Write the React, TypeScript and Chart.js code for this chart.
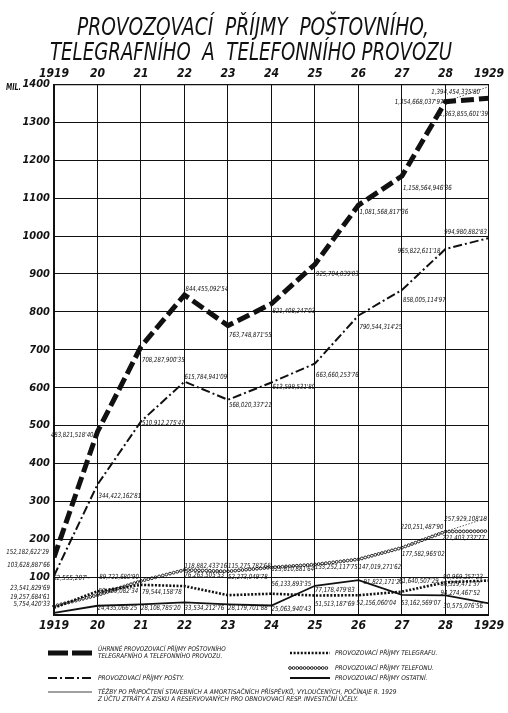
import { useEffect, useRef } from "react";
import { Chart, registerables } from "chart.js";
Chart.register(...registerables);

const YEARS = [1919, 1920, 1921, 1922, 1923, 1924, 1925, 1926, 1927, 1928, 1929];
const X_TICK_LABELS = ["1919", "20", "21", "22", "23", "24", "25", "26", "27", "28", "1929"];

// values in millions of Kč
const TOTAL = [152.18, 483.82, 708.29, 844.46, 763.75, 821.41, 925.7, 1081.57, 1158.56, 1354.67, 1363.86];
const POSTY = [103.63, 344.42, 510.91, 615.78, 568.02, 613.6, 663.66, 790.54, 858.01, 965.82, 994.98];
const TELEGRAPH = [19.26, 62.56, 79.54, 76.26, 52.27, 56.13, 51.51, 52.16, 61.64, 86.32, 90.97];
const TELEPHONE = [23.54, 52.41, 89.72, 118.88, 115.28, 125.61, 133.25, 147.02, 177.58, 220.25, 221.4];
const OTHERS = [5.75, 24.44, 28.11, 33.53, 28.18, 25.06, 77.18, 91.82, 53.16, 52.0, 30.58];
const TEZBY_TOTAL = [null, null, null, null, null, null, null, null, null, 1354.67, 1394.45];
const TEZBY_TELEPHONE = [null, null, null, null, null, null, null, null, null, 220.25, 257.93];

const TOTAL_LABELS = ["152,182,622'29", "483,821,518'40", "708,287,900'35", "844,455,092'54", "763,748,871'55", "821,408,247'03", "925,704,039'03", "1,081,568,817'36", "1,158,564,946'36", "1,354,668,037'97", "1,363,855,601'39"];
const POSTY_LABELS = ["103,628,887'66", "344,422,162'81", "510,912,275'47", "615,784,941'09", "568,020,337'21", "613,599,531'80", "663,660,253'76", "790,544,314'25", "858,005,114'97", "965,822,611'18", "994,980,882'83"];
const TELEGRAPH_LABELS = ["19,257,684'61", "62,555,207'-", "79,544,158'78", "76,263,505'53", "52,273,049'78", "56,133,893'35", "51,513,187'69", "52,156,060'04", "61,640,507'29", "86,319,471'37", "90,969,257'23"];
const TELEPHONE_LABELS = ["23,541,829'69", "52,409,082'34", "89,722,680'90", "118,882,433'16", "115,275,782'68", "125,610,881'64", "133,252,117'75", "147,019,271'62", "177,582,965'02", "220,251,487'90", "221,403,737'77"];
const OTHER_LABELS = ["5,754,420'33", "24,435,066'25", "28,108,785'20", "33,534,212'76", "28,179,701'88", "25,063,940'43", "77,178,479'83", "91,822,171'25", "53,162,569'07", "94,274,467'52", "30,575,076'56"];
const TEZBY_TOTAL_LABELS = [null, null, null, null, null, null, null, null, null, null, "1,394,454,335'80"];
const TEZBY_TELEPHONE_LABELS = [null, null, null, null, null, null, null, null, null, null, "257,929,108'18"];

const TITLE = ["PROVOZOVACÍ  PŘÍJMY  POŠTOVNÍHO,", "TELEGRAFNÍHO  A  TELEFONNÍHO PROVOZU"];
const LEGEND = {
  total: ["ÚHRNNÉ PROVOZOVACÍ PŘÍJMY POŠTOVNÍHO", "TELEGRAFNÍHO A TELEFONNÍHO PROVOZU."],
  posty: ["PROVOZOVACÍ PŘÍJMY POŠTY."],
  telegraph: ["PROVOZOVACÍ PŘÍJMY TELEGRAFU."],
  telephone: ["PROVOZOVACÍ PŘÍJMY TELEFONU."],
  others: ["PROVOZOVACÍ PŘÍJMY OSTATNÍ."],
  tezby: [
    "TĚŽBY PO PŘIPOČTENÍ STAVEBNÍCH A AMORTISAČNÍCH PŘÍSPĚVKŮ, VYLOUČENÝCH, POČÍNAJE R. 1929",
    "Z ÚČTU ZTRÁTY A ZISKU A RESERVOVANÝCH PRO OBNOVOVACÍ RESP. INVESTIČNÍ ÚČELY.",
  ],
};

// label placement: [dx, dy, align] relative to the data point
type Place = [number, number, CanvasTextAlign];
const TOTAL_PLACE: Place[] = [[-5, -5, "right"], [-4, 4, "right"], [1, 14, "left"], [1, -6, "left"], [1, 10, "left"], [1, 7, "left"], [1, 10, "left"], [1, 7, "left"], [1, 12, "left"], [-2, 1, "right"], [-1, 16, "right"]];
const POSTY_PLACE: Place[] = [[-4, -11, "right"], [1, 12, "left"], [1, 2, "left"], [0, -4, "left"], [1, 5, "left"], [1, 5, "left"], [1, 12, "left"], [1, 12, "left"], [1, 10, "left"], [-5, 2, "right"], [-2, -6, "right"]];
const TELEGRAPH_PLACE: Place[] = [[-4, -11, "right"], [-8, -13, "right"], [1, 7, "left"], [0, -11, "left"], [0, -18, "left"], [0, -10, "left"], [0, 9, "left"], [-2, 8, "left"], [-3, -10, "left"], [-5, 2, "left"], [-6, -3, "right"]];
const TELEPHONE_PLACE: Place[] = [[-4, -18, "right"], [1, -4, "left"], [-2, -4, "right"], [0, -4, "left"], [0, -5, "left"], [0, 2, "left"], [0, 3, "left"], [0, 8, "left"], [0, 6, "left"], [-2, -4, "right"], [-4, 7, "right"]];
const OTHER_PLACE: Place[] = [[-4, -9, "right"], [0, 2, "left"], [0, 4, "left"], [0, 6, "left"], [0, 4, "left"], [0, 4, "left"], [0, 4, "left"], [5, 2, "left"], [-1, 8, "left"], [-5, -2, "left"], [-6, 3, "right"]];
const TEZBY_TOTAL_PLACE: Place[] = YEARS.map(() => [-9, 6, "right"] as Place);
const TEZBY_TELEPHONE_PLACE: Place[] = YEARS.map(() => [-2, 2, "right"] as Place);

const FONT = "'DejaVu Sans Condensed', 'DejaVu Sans', sans-serif";
const INK = "#111";

function pts(values: (number | null)[]) {
  return YEARS.map((x, i) => ({ x, y: values[i] }));
}

function circlesAlong(ctx: CanvasRenderingContext2D, points: { x: number; y: number }[]) {
  ctx.save();
  ctx.strokeStyle = INK;
  ctx.lineWidth = 0.9;
  ctx.setLineDash([]);
  for (let i = 0; i < points.length - 1; i++) {
    const a = points[i], b = points[i + 1];
    const len = Math.hypot(b.x - a.x, b.y - a.y);
    const n = Math.max(1, Math.round(len / 3.6));
    for (let k = 0; k < n; k++) {
      const t = k / n;
      ctx.beginPath();
      ctx.arc(a.x + (b.x - a.x) * t, a.y + (b.y - a.y) * t, 1.4, 0, Math.PI * 2);
      ctx.stroke();
    }
  }
  ctx.restore();
}

function styledLine(ctx: CanvasRenderingContext2D, kind: string, x1: number, y: number, x2: number) {
  ctx.save();
  ctx.strokeStyle = INK;
  if (kind === "telephone") {
    ctx.restore();
    circlesAlong(ctx, [{ x: x1, y }, { x: x2, y }]);
    return;
  }
  if (kind === "total") { ctx.lineWidth = 5; ctx.setLineDash([19, 5]); }
  if (kind === "posty") { ctx.lineWidth = 2; ctx.setLineDash([9, 3, 2, 3]); }
  if (kind === "telegraph") { ctx.lineWidth = 2.6; ctx.setLineDash([2, 1.6]); }
  if (kind === "others") { ctx.lineWidth = 1.8; ctx.setLineDash([]); }
  if (kind === "tezby") { ctx.lineWidth = 0.8; ctx.setLineDash([]); }
  ctx.beginPath();
  ctx.moveTo(x1, y);
  ctx.lineTo(x2, y);
  ctx.stroke();
  ctx.restore();
}

const decor = {
  id: "decor",
  beforeDraw(chart: any) {
    const ctx: CanvasRenderingContext2D = chart.ctx;
    ctx.save();
    ctx.fillStyle = "#fff";
    ctx.fillRect(0, 0, chart.width, chart.height);
    ctx.fillStyle = INK;
    ctx.textAlign = "center";
    ctx.textBaseline = "alphabetic";
    ctx.font = `italic 24px ${FONT}`;
    ctx.fillText(TITLE[0], 253, 35, 352);
    ctx.fillText(TITLE[1], 251, 60, 402);
    ctx.font = `bold italic 8px ${FONT}`;
    ctx.textAlign = "left";
    ctx.textBaseline = "middle";
    ctx.fillText("MIL.", 6, 88, 15);
    ctx.restore();
  },
  afterDatasetsDraw(chart: any) {
    const ctx: CanvasRenderingContext2D = chart.ctx;
    // telephone open circles
    const telMeta = chart.getDatasetMeta(3);
    circlesAlong(ctx, telMeta.data.map((p: any) => ({ x: p.x, y: p.y })));

    // value labels
    const groups: [number, (string | null)[], Place[]][] = [
      [0, TOTAL_LABELS, TOTAL_PLACE],
      [1, POSTY_LABELS, POSTY_PLACE],
      [2, TELEGRAPH_LABELS, TELEGRAPH_PLACE],
      [3, TELEPHONE_LABELS, TELEPHONE_PLACE],
      [4, OTHER_LABELS, OTHER_PLACE],
      [5, TEZBY_TOTAL_LABELS, TEZBY_TOTAL_PLACE],
      [6, TEZBY_TELEPHONE_LABELS, TEZBY_TELEPHONE_PLACE],
    ];
    ctx.save();
    ctx.fillStyle = INK;
    ctx.font = `italic 7px ${FONT}`;
    ctx.textBaseline = "middle";
    for (const [di, labels, place] of groups) {
      const meta = chart.getDatasetMeta(di);
      labels.forEach((txt, i) => {
        if (!txt) return;
        const p = meta.data[i];
        if (!p || p.skip) return;
        const [dx, dy, align] = place[i];
        ctx.textAlign = align;
        ctx.fillText(txt, p.x + dx, p.y + dy, txt.length * 3.05);
      });
    }
    ctx.restore();

    // legend
    ctx.save();
    ctx.fillStyle = INK;
    ctx.textAlign = "left";
    ctx.textBaseline = "middle";
    ctx.font = `italic 6.5px ${FONT}`;
    const lt = (lines: string[], x: number, y: number, per: number) => {
      lines.forEach((s, i) => ctx.fillText(s, x, y + i * 7.5, s.length * per));
    };
    ctx.save();
    ctx.lineWidth = 5;
    ctx.strokeStyle = INK;
    ctx.beginPath();
    ctx.moveTo(48, 653); ctx.lineTo(68, 653);
    ctx.moveTo(72, 653); ctx.lineTo(92, 653);
    ctx.stroke();
    ctx.restore();
    lt(LEGEND.total, 98, 649, 3.55);
    styledLine(ctx, "posty", 48, 678, 92);
    lt(LEGEND.posty, 98, 678, 3.55);
    styledLine(ctx, "tezby", 48, 692, 92);
    lt(LEGEND.tezby, 98, 692, 3.92);
    styledLine(ctx, "telegraph", 290, 653, 330);
    lt(LEGEND.telegraph, 335, 653, 3.6);
    styledLine(ctx, "telephone", 290, 668, 330);
    lt(LEGEND.telephone, 335, 668, 3.6);
    styledLine(ctx, "others", 290, 678, 330);
    lt(LEGEND.others, 335, 678, 3.6);
    ctx.restore();
  },
};

export default function App() {
  const ref = useRef<HTMLCanvasElement | null>(null);
  useEffect(() => {
    document.body.style.margin = "0";
    const canvas = ref.current!;
    const base = { pointRadius: 0, tension: 0, fill: false, borderColor: INK, borderCapStyle: "butt" as const, spanGaps: false };
    const tickFont = { family: FONT, size: 12, style: "italic" as const, weight: "bold" as const };
    const xTicks = {
      stepSize: 1,
      color: INK,
      font: tickFont,
      autoSkip: false,
      maxRotation: 0,
      callback: (v: any) => X_TICK_LABELS[YEARS.indexOf(Number(v))] ?? "",
    };
    const chart = new Chart(canvas, {
      type: "line",
      data: {
        datasets: [
          { ...base, label: "total", data: pts(TOTAL), borderWidth: 5, borderDash: [13, 5] },
          { ...base, label: "posty", data: pts(POSTY), borderWidth: 2, borderDash: [9, 3, 2, 3] },
          { ...base, label: "telegraph", data: pts(TELEGRAPH), borderWidth: 2.6, borderDash: [2, 1.6] },
          { ...base, label: "telephone", data: pts(TELEPHONE), borderWidth: 0, borderColor: "rgba(0,0,0,0)" },
          { ...base, label: "others", data: pts(OTHERS), borderWidth: 1.8 },
          { ...base, label: "tezby1", data: pts(TEZBY_TOTAL), borderWidth: 0.8, borderDash: [1.5, 1.5], borderColor: "#333" },
          { ...base, label: "tezby2", data: pts(TEZBY_TELEPHONE), borderWidth: 0.8, borderDash: [1.5, 1.5], borderColor: "#333" },
        ],
      },
      options: {
        responsive: false,
        animation: false,
        devicePixelRatio: 1,
        layout: { padding: { left: 0, right: 12, top: 0, bottom: 0 }, autoPadding: false },
        plugins: { legend: { display: false }, title: { display: false }, tooltip: { enabled: false } },
        scales: {
          x: {
            type: "linear",
            position: "bottom",
            min: 1919,
            max: 1929,
            ticks: { ...xTicks, padding: 4 },
            grid: { color: INK, lineWidth: 1, drawTicks: false },
            border: { color: INK, width: 1.2 },
            afterFit: (s: any) => { s.height = 98; },
          },
          x2: {
            type: "linear",
            position: "top",
            min: 1919,
            max: 1929,
            ticks: { ...xTicks, padding: 3 },
            grid: { display: false, drawTicks: false },
            border: { color: INK, width: 1.2 },
            afterFit: (s: any) => { s.height = 84.5; },
          },
          y: {
            min: 0,
            max: 1400,
            ticks: {
              stepSize: 100,
              color: INK,
              padding: 4,
              font: { family: FONT, size: 11, style: "italic", weight: "bold" },
              callback: (v: any) => (Number(v) === 0 ? "" : String(v)),
            },
            grid: { color: INK, lineWidth: 1, drawTicks: false },
            border: { color: INK, width: 1.2 },
            afterFit: (s: any) => { s.width = 54; },
          },
        },
      },
      plugins: [decor],
    });
    return () => chart.destroy();
  }, []);
  return (
    <div style={{ width: 508, height: 713 }}>
      <canvas ref={ref} width={508} height={713} />
    </div>
  );
}
